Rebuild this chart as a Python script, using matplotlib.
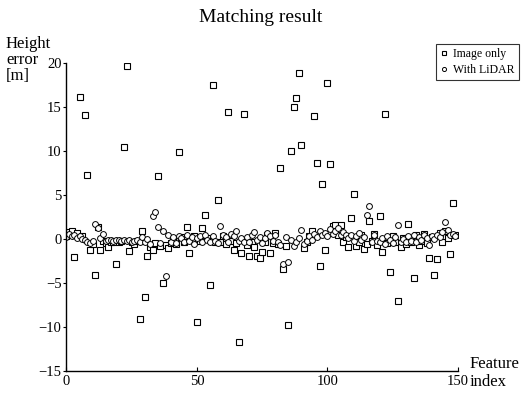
import numpy as np
import matplotlib
matplotlib.use("Agg")
import matplotlib.pyplot as plt

plt.rcParams.update({
    'font.family': 'Liberation Serif',
    'font.size': 11,
    'axes.spines.top': False,
    'axes.spines.right': False,
})

# height error per feature
image_only = [
    0.3, 0.8, 0.9, -2.0, 0.7, 16.1, 0.3, 14.1, 7.3, -1.3,
    -0.6, -4.1, 1.3, -1.2, -0.2, -0.5, -0.9, -0.3, -0.4, -2.8,
    -0.3, -0.2, 10.5, 19.7, -1.4, -0.4, -0.6, -0.2, -9.1, 0.9,
    -6.6, -1.9, -0.9, -1.2, -0.5, 7.2, -0.8, -5.0, -0.7, -1.0,
    -0.5, -0.2, -0.6, 9.9, 0.2, -0.4, 1.3, -1.6, -0.1, 0.3,
    -9.4, -0.2, 1.2, 2.7, 0.1, -5.2, 17.5, -0.3, 4.4, -0.4,
    0.3, -0.6, 14.4, -0.2, -1.3, -0.5, -11.7, -1.6, 14.2, -0.7,
    -1.9, -0.4, -0.9, -1.9, -2.2, -1.5, -0.3, 0.4, -1.6, -0.5,
    0.7, -0.6, 8.1, -3.4, -0.8, -9.8, 10.0, 15.0, 16.0, 18.9,
    10.7, -1.0, -0.4, 0.3, 0.9, 14.0, 8.6, -3.1, 6.2, -1.3,
    17.7, 8.5, 1.5, 1.6, 0.4, 1.6, -0.3, 0.2, -0.9, 2.4,
    5.1, -0.8, -0.4, 0.5, -1.1, -0.6, 2.0, -0.2, 0.6, -0.7,
    2.6, -1.5, 14.2, -0.5, -3.8, 0.3, -0.4, -7.1, -0.9, 0.1,
    -0.6, 1.7, -0.3, -4.4, 0.4, -0.7, -0.2, 0.6, -0.5, -2.2,
    0.2, -4.1, -2.3, 0.7, -0.3, 0.9, 0.1, -1.7, 4.1, 0.5,
]

with_lidar = [
    0.2, 0.6, 0.3, 0.5, 0.1, 0.3, 0.0, -0.1, -0.3, -0.5,
    -0.2, 1.7, 1.2, 0.1, 0.6, -0.2, -0.1, -0.1, -0.2, -0.1,
    -0.1, -0.2, -0.1, -0.2, -0.1, -0.3, -0.2, -0.1, -0.3, 0.2,
    -0.4, 0.0, -0.6, 2.6, 3.1, 1.4, -0.5, 0.9, -4.2, 0.4,
    -0.3, 0.2, -0.5, 0.3, 0.1, -0.4, 0.5, -0.2, 0.2, -0.6,
    0.1, 0.3, -0.3, 0.5, -0.1, -0.4, 0.3, -0.2, -0.5, 1.5,
    0.4, 0.2, -0.3, 0.6, 0.3, 0.9, -0.2, 0.1, -0.4, 0.2,
    -0.3, 0.4, 0.8, -0.1, 0.2, -0.5, 0.1, 0.7, 0.3, -0.2,
    0.5, -0.4, -0.7, -2.9, 0.2, -2.6, -0.1, -0.8, -0.4, 0.1,
    1.0, -0.6, -0.2, 0.3, -0.1, 0.6, 0.2, 0.9, 0.4, 0.7,
    0.3, 1.1, 0.6, 0.9, 1.2, 0.5, 0.8, 0.4, 0.1, 0.5,
    -0.2, 0.3, 0.7, -0.1, 0.2, 2.7, 3.7, -0.3, 0.4, -0.2,
    -0.4, 0.1, -0.6, 0.3, -0.1, -0.5, 0.2, 1.6, -0.3, 0.0,
    -0.4, 0.3, -0.2, 0.5, -0.3, 0.2, -0.1, 0.4, 0.1, -0.7,
    0.3, 0.0, 0.5, 0.2, 0.8, 1.9, 1.0, 0.4, 0.6, 0.3,
]

feature_index = np.arange(len(image_only))

fig = plt.figure(figsize=(5.21, 3.93), dpi=100)
ax = fig.add_axes([0.1276, 0.0560, 0.7514, 0.7840])

ax.plot(feature_index, image_only, linestyle='none', marker='s', markersize=4.2,
        markerfacecolor='white', markeredgecolor='black', markeredgewidth=0.8,
        label='Image only')
ax.plot(feature_index, with_lidar, linestyle='none', marker='o', markersize=4.2,
        markerfacecolor='white', markeredgecolor='black', markeredgewidth=0.7,
        label='With LiDAR')

ax.set_xlim(0, 150)
ax.set_ylim(-15, 20)
ax.set_xticks([0, 50, 100, 150])
ax.set_yticks([-15, -10, -5, 0, 5, 10, 15, 20])
ax.tick_params(axis='x', direction='in', length=3, pad=3, labelsize=10.5)
ax.tick_params(axis='y', direction='out', length=2.5, pad=1, labelsize=10.5)
ax.spines['left'].set_linewidth(1.0)
ax.spines['bottom'].set_linewidth(1.0)

fig.text(0.5, 1 - 17 / 393, 'Matching result', ha='center', va='center', fontsize=14)
# y label, one line per text so the short lines stay clear of the "20" tick label
for i, line in enumerate(['Height', 'error', '[m]']):
    fig.text(6 / 521, 1 - (44 + 16 * i) / 393, line, ha='left', va='center', fontsize=12)
fig.text(470 / 521, 1 - 373 / 393, 'Feature\nindex', ha='left', va='center',
         fontsize=12, linespacing=1.1)

leg = ax.legend(loc='upper right', bbox_to_anchor=(519 / 521, 1 - 44 / 393),
                bbox_transform=fig.transFigure, borderaxespad=0, fontsize=8.5,
                fancybox=False, frameon=True, markerscale=0.7, handlelength=0.6,
                handletextpad=0.5, borderpad=0.35, labelspacing=0.3)
leg.get_frame().set_edgecolor('black')
leg.get_frame().set_linewidth(0.8)

fig.savefig('out.png', dpi=100)
